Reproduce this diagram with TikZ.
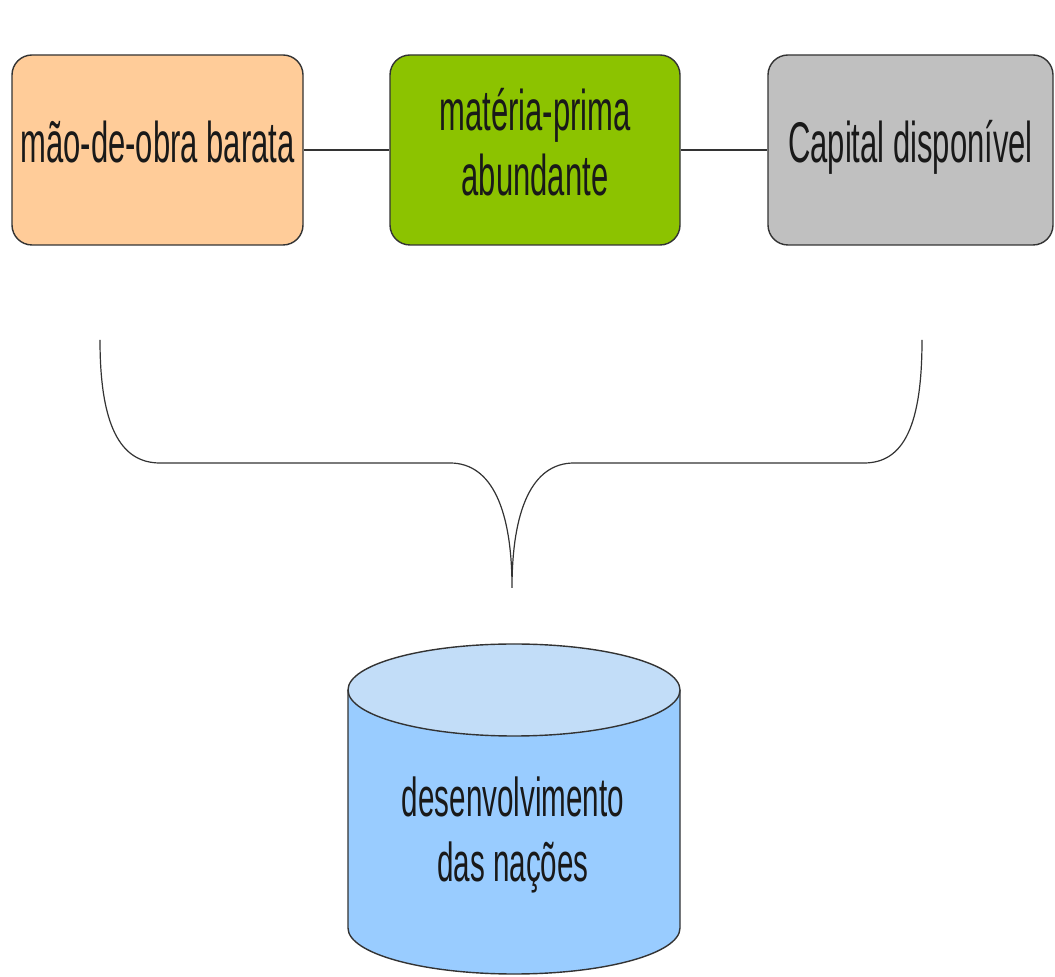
\documentclass[tikz,border=0pt]{standalone}
\usepackage{fontspec}
\setmainfont{Liberation Sans}
\usepackage{graphicx}
\definecolor{peach}{HTML}{FFCC99}
\definecolor{leaf}{HTML}{8CC300}
\definecolor{silver}{HTML}{C0C0C0}
\definecolor{sky}{HTML}{99CCFF}
\definecolor{skytop}{HTML}{C2DDF8}
\definecolor{edgegray}{HTML}{333333}
\newcommand{\tall}[1]{\scalebox{1}[1.85]{\begin{tabular}{@{}c@{}}#1\end{tabular}}}
\tikzset{
  box/.style={draw=edgegray, line width=0.7pt, rounded corners=10pt,
    minimum height=95pt, inner sep=0pt,
    font=\fontsize{15.5}{17.5}\selectfont, text=black!90},
  wire/.style={draw=edgegray, line width=0.6pt}
}
\begin{document}
\begin{tikzpicture}[x=0.5pt,y=0.5pt]
    \useasboundingbox (0,0) rectangle (1055,-977);
    \fill[white] (0,0) rectangle (1055,-977);
    \node[box, fill=peach, minimum width=145.5pt] (A0_0) at (157.5,-150) {\tall{mão-de-obra barata}};
    \node[box, fill=leaf, minimum width=145pt] (A0_1) at (535,-150) {\raisebox{-2pt}{\tall{matéria-prima\\abundante}}};
    \node[box, fill=silver, minimum width=142.5pt] (A0_2) at (910.5,-150) {\tall{Capital disponível}};
    \path (A0_0) edge [wire] (A0_1);
    \path (A0_1) edge [wire] (A0_2);
    % brace
    \draw[wire] (100,-340) .. controls (100,-425) and (120,-463) .. (160,-463)
      -- (450,-463) .. controls (492,-463) and (512,-510) .. (512,-588)
      .. controls (512,-510) and (532,-463) .. (574,-463)
      -- (864,-463) .. controls (904,-463) and (922,-425) .. (922,-340);
    % cylinder
    \filldraw[fill=sky, draw=edgegray, line width=0.7pt] (348,-690) -- (348,-928)
      arc[start angle=180, end angle=360, x radius=166, y radius=46] -- (680,-690);
    \filldraw[fill=skytop, draw=edgegray, line width=0.7pt] (514,-690) ellipse[x radius=166, y radius=46];
    \node[font=\fontsize{14.8}{17.5}\selectfont, text=black!90] (A2_1) at (513,-836) {\tall{desenvolvimento\\das nações}};
\end{tikzpicture}
\end{document}
